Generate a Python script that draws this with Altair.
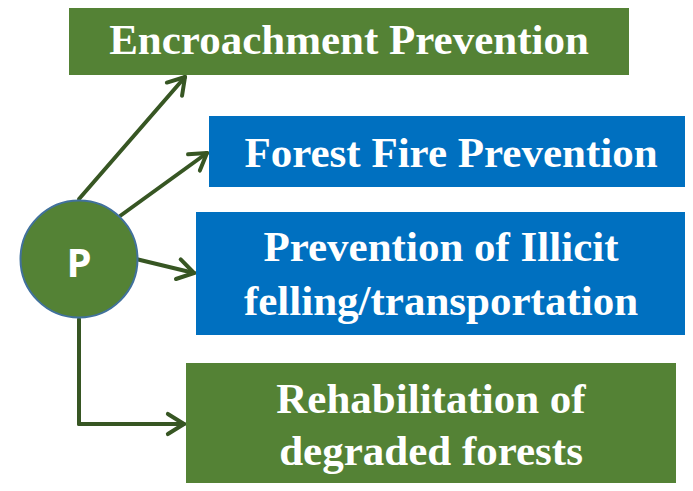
import altair as alt
import pandas as pd
import math

# Boxes (picture pixel coordinates)
box_labels = ["Encroachment Prevention", "Forest Fire Prevention",
              "Prevention of Illicit\nfelling/transportation",
              "Rehabilitation of\ndegraded forests"]
box_x0 = [69, 209, 196, 186]
box_x1 = [629, 693, 686, 676]
box_y0 = [4, 116, 212, 363]
box_y1 = [75, 187, 335, 486]
box_fill = ["#548235", "#0070C0", "#0070C0", "#548235"]
line_baselines = [[54], [167], [261, 315], [413, 465]]

# Arrows: start and tip
arrow_x0 = [79, 120, 136, 79]
arrow_y0 = [199, 216, 259, 424]
arrow_tx = [185, 207, 194, 184]
arrow_ty = [77, 153, 273, 424]
elbow = dict(x=79, y=319, x2=79, y2=424)

circle_x, circle_y, circle_d = 79, 259, 117

ARROW = "#375623"

boxes = pd.DataFrame(dict(x=box_x0, x2=box_x1, y=box_y0, y2=box_y1, c=box_fill))

text_rows = []
for lab, x0, x1, bl in zip(box_labels, box_x0, box_x1, line_baselines):
    for line, yb in zip(lab.split("\n"), bl):
        text_rows.append(dict(x=(x0 + x1) / 2, y=yb, t=line))
texts = pd.DataFrame(text_rows)

segs = []
for x0, y0, tx, ty in zip(arrow_x0, arrow_y0, arrow_tx, arrow_ty):
    segs.append(dict(x=x0, y=y0, x2=tx, y2=ty))
    ang = math.atan2(ty - y0, tx - x0)
    L = 19
    for d in (math.radians(32), -math.radians(32)):
        a = ang + math.pi + d
        segs.append(dict(x=tx, y=ty, x2=tx + L * math.cos(a), y2=ty + L * math.sin(a)))
segs.append(elbow)
segs = pd.DataFrame(segs)

W, H = 677, 475
xs = alt.Scale(domain=[8, 8 + W], nice=False, zero=False)
ys = alt.Scale(domain=[8, 8 + H], nice=False, zero=False, reverse=True)

rects = alt.Chart(boxes).mark_rect(clip=False).encode(
    x=alt.X("x:Q", scale=xs, axis=None), x2="x2",
    y=alt.Y("y:Q", scale=ys, axis=None), y2="y2",
    color=alt.Color("c:N", scale=None))

lines = alt.Chart(segs).mark_rule(strokeWidth=4, strokeCap="round", color=ARROW, clip=False).encode(
    x=alt.X("x:Q", scale=xs, axis=None), x2="x2",
    y=alt.Y("y:Q", scale=ys, axis=None), y2="y2")

circ = alt.Chart(pd.DataFrame(dict(x=[circle_x], y=[circle_y]))).mark_circle(
    size=circle_d ** 2, color="#548235", stroke="#41719C", strokeWidth=2, opacity=1, clip=False
).encode(x=alt.X("x:Q", scale=xs, axis=None), y=alt.Y("y:Q", scale=ys, axis=None))

ptext = alt.Chart(pd.DataFrame(dict(x=[circle_x], y=[277], t=["P"]))).mark_text(
    font="Open Sans", fontWeight="bold", fontSize=40, color="white", baseline="alphabetic", align="center"
).encode(x=alt.X("x:Q", scale=xs, axis=None), y=alt.Y("y:Q", scale=ys, axis=None), text="t:N")

labels = alt.Chart(texts).mark_text(
    font="Liberation Serif", fontWeight="bold", fontSize=43, color="white",
    baseline="alphabetic", align="center", clip=False
).encode(x=alt.X("x:Q", scale=xs, axis=None), y=alt.Y("y:Q", scale=ys, axis=None), text="t:N")

chart = alt.layer(rects, lines, circ, ptext, labels).properties(
    width=W, height=H, padding=0, autosize=alt.AutoSizeParams(type="none")
).configure_view(stroke=None, strokeWidth=0)

chart.save("out.html", embed_options={"renderer": "svg", "actions": False})
